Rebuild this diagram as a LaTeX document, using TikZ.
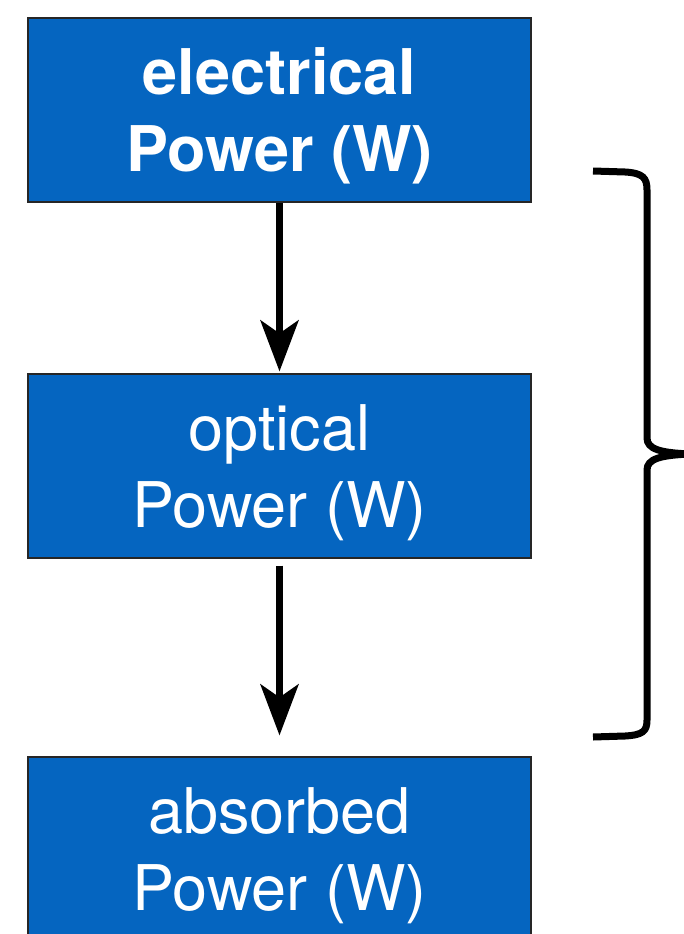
\documentclass[tikz,border=0pt]{standalone}
\usepackage{fontspec}
\setmainfont{TeX Gyre Heros}
\usetikzlibrary{arrows.meta}
\definecolor{boxblue}{RGB}{5,101,192}
\newcommand{\nodp}[1]{\raisebox{0pt}[\height][0pt]{#1}}
\begin{document}
\begin{tikzpicture}[x=1pt,y=-1pt,
  powerbox/.style={draw=black!85,line width=1.2pt,fill=boxblue,text=white,
    minimum width=503pt,minimum height=184pt,inner sep=0pt,align=center,
    font=\fontsize{63}{77}\selectfont},
  flowarrow/.style={line width=7pt,-{Stealth[length=51pt,width=38pt,inset=13pt]}},
  bracestyle/.style={line width=7pt,line join=round}]
\useasboundingbox (0,0) rectangle (684,934);
\node[powerbox,font=\fontsize{63}{77}\selectfont\bfseries] (elec) at (279.5,110) {electrical\\\nodp{Power (W)}};
\node[powerbox] (opt) at (279.5,466) {optical\\\nodp{Power (W)}};
\node[powerbox] (abs) at (279.5,849) {absorbed\\\nodp{Power (W)}};
\draw[flowarrow,shorten >=2pt] (elec.south) -- (opt.north);
\draw[flowarrow,shorten <=7pt,shorten >=21pt] (opt.south) -- (abs.north);
\draw[bracestyle] (593,171) -- (625,172) .. controls (643,173) and (647,178) .. (647,190)
  -- (647,438) .. controls (647,449) and (660,453) .. (692,454)
  .. controls (660,455) and (647,459) .. (647,470)
  -- (647,720) .. controls (647,731) and (643,735) .. (625,736) -- (593,737);
\end{tikzpicture}
\end{document}
